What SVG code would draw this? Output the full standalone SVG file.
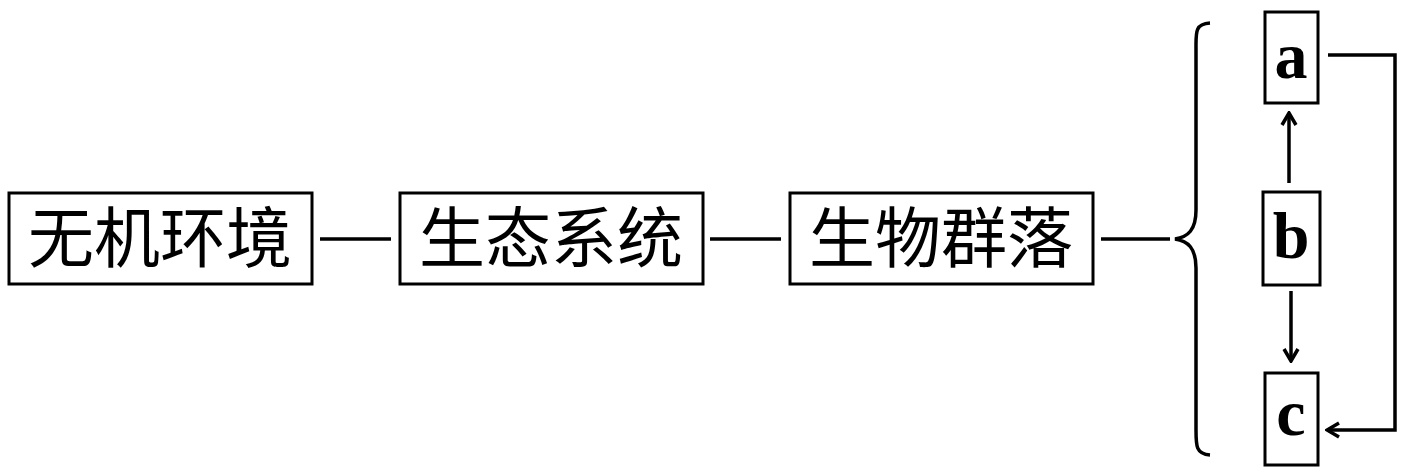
<svg xmlns="http://www.w3.org/2000/svg" width="1405" height="476" viewBox="0 0 1405 476">
<style>
.box{fill:#fff;stroke:#000;stroke-width:3}
.zh{font-family:"Noto Sans CJK SC","Noto Sans CJK JP",sans-serif;font-size:66px;fill:#000;text-anchor:middle}
.en{font-family:"Liberation Serif","DejaVu Serif",serif;font-size:66px;font-weight:bold;fill:#000;text-anchor:middle}
.ln{fill:none;stroke:#000;stroke-width:3.5}
</style>
<defs>
<marker id="arr" viewBox="0 0 16 18" refX="14" refY="9" markerWidth="16" markerHeight="18" markerUnits="userSpaceOnUse" orient="auto">
<path d="M2,2 L14,9 L2,16" fill="none" stroke="#000" stroke-width="3.5"/>
</marker>
</defs>
<g id="n1"><rect class="box" x="9" y="193" width="303" height="91"/><text class="zh" x="160" y="262">无机环境</text></g>
<g id="n2"><rect class="box" x="400" y="193" width="303" height="91"/><text class="zh" x="551" y="262">生态系统</text></g>
<g id="n3"><rect class="box" x="790" y="193" width="303" height="91"/><text class="zh" x="941" y="262">生物群落</text></g>
<g id="na"><rect class="box" x="1265" y="12" width="53" height="91"/><text class="en" x="1291" y="78">a</text></g>
<g id="nb"><rect class="box" x="1263" y="192" width="57" height="93"/><text class="en" x="1291" y="258">b</text></g>
<g id="nc"><rect class="box" x="1265" y="373" width="53" height="92"/><text class="en" x="1291" y="435">c</text></g>
<g id="connectors">
<line class="ln" x1="320" y1="239" x2="391" y2="239"/>
<line class="ln" x1="710" y1="239" x2="781" y2="239"/>
<line class="ln" x1="1101" y1="239" x2="1170" y2="239"/>
<path class="ln" d="M1210,23 C1195,24 1196,32 1196,48 L1196,210 C1196,230 1188,237 1175,239 C1188,241 1196,248 1196,268 L1196,430 C1196,446 1196,454 1210,455"/>
<line class="ln" x1="1289" y1="183" x2="1289" y2="113" marker-end="url(#arr)"/>
<line class="ln" x1="1291" y1="291" x2="1291" y2="361" marker-end="url(#arr)"/>
<polyline class="ln" points="1328,55 1395,55 1395,430 1327,430" marker-end="url(#arr)"/>
</g>
</svg>
